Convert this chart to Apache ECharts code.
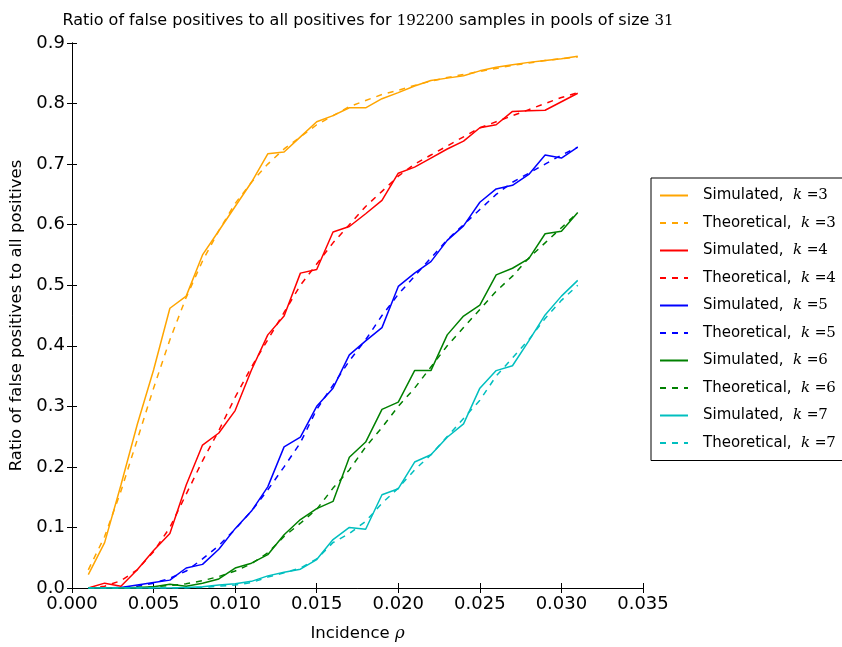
<!DOCTYPE html>
<html><head><meta charset="utf-8">
<script src="https://cdn.jsdelivr.net/npm/echarts@6/dist/echarts.min.js"></script>
<style>html,body{margin:0;padding:0;background:#fff}#c{width:842px;height:647px}</style>
</head><body><div id="c"></div>
<script>
var incidence = [0.001,0.002,0.003,0.004,0.005,0.006,0.007,0.008,0.009,0.010,0.011,0.012,0.013,0.014,0.015,0.016,0.017,0.018,0.019,0.020,0.021,0.022,0.023,0.024,0.025,0.026,0.027,0.028,0.029,0.030,0.031];
var xTicks = ['0.000','0.005','0.010','0.015','0.020','0.025','0.030','0.035'];
var yTicks = ['0.0','0.1','0.2','0.3','0.4','0.5','0.6','0.7','0.8','0.9'];

var sim3 = [0.022,0.075,0.17,0.27,0.36,0.462,0.482,0.55,0.59,0.63,0.67,0.717,0.72,0.745,0.77,0.78,0.793,0.793,0.808,0.818,0.829,0.838,0.842,0.846,0.854,0.86,0.864,0.868,0.871,0.874,0.878];
var th3  = [0.03,0.085,0.16,0.245,0.33,0.41,0.48,0.54,0.59,0.635,0.67,0.70,0.725,0.745,0.765,0.78,0.795,0.805,0.815,0.822,0.83,0.837,0.843,0.848,0.853,0.858,0.863,0.867,0.871,0.874,0.877];
var sim4 = [0.0,0.008,0.003,0.03,0.062,0.09,0.17,0.236,0.256,0.293,0.36,0.418,0.449,0.52,0.526,0.588,0.597,0.618,0.64,0.685,0.695,0.71,0.725,0.738,0.76,0.765,0.787,0.788,0.789,0.803,0.817];
var th4  = [0.0,0.003,0.012,0.03,0.06,0.10,0.155,0.21,0.26,0.315,0.365,0.41,0.455,0.50,0.535,0.57,0.60,0.63,0.655,0.68,0.70,0.715,0.73,0.745,0.76,0.77,0.78,0.79,0.80,0.81,0.818];
var sim5 = [0.0,0.0,0.001,0.005,0.009,0.013,0.033,0.039,0.064,0.098,0.127,0.167,0.233,0.249,0.30,0.33,0.385,0.408,0.43,0.498,0.52,0.539,0.574,0.598,0.637,0.659,0.665,0.683,0.715,0.71,0.728];
var th5  = [0.0,0.0,0.001,0.003,0.008,0.016,0.028,0.048,0.07,0.097,0.127,0.162,0.20,0.24,0.295,0.335,0.375,0.41,0.45,0.485,0.515,0.545,0.575,0.60,0.625,0.65,0.67,0.685,0.70,0.715,0.728];
var sim6 = [0.0,0.0,0.0,0.001,0.002,0.006,0.003,0.008,0.015,0.033,0.041,0.055,0.088,0.113,0.131,0.143,0.216,0.241,0.295,0.307,0.359,0.359,0.418,0.449,0.467,0.517,0.528,0.544,0.585,0.589,0.62];
var th6  = [0.0,0.0,0.0,0.001,0.002,0.004,0.007,0.012,0.019,0.028,0.04,0.058,0.085,0.107,0.13,0.165,0.195,0.233,0.265,0.30,0.33,0.365,0.40,0.43,0.46,0.49,0.515,0.545,0.57,0.595,0.62];
var sim7 = [0.0,0.0,0.0,0.0,0.0,0.0,0.001,0.002,0.005,0.007,0.011,0.02,0.026,0.031,0.047,0.08,0.10,0.097,0.154,0.164,0.208,0.22,0.249,0.271,0.33,0.359,0.367,0.408,0.451,0.482,0.508];
var th7  = [0.0,0.0,0.0,0.0,0.0,0.0,0.0,0.001,0.003,0.005,0.009,0.018,0.025,0.033,0.048,0.075,0.09,0.11,0.14,0.165,0.195,0.22,0.25,0.28,0.31,0.35,0.38,0.41,0.445,0.475,0.50];

var ks = ['3','4','5','6','7'];
var colors = ['#FFA500','#FF0000','#0000FF','#008000','#00BFBF'];
var simData = [sim3,sim4,sim5,sim6,sim7];
var thData = [th3,th4,th5,th6,th7];

function pairs(arr){ return incidence.map(function(x,i){return [x,arr[i]];}); }
var series = [], legendNames = [];
for (var i=0;i<ks.length;i++){
  var sn = 'Simulated, k=' + ks[i], tn = 'Theoretical, k=' + ks[i];
  legendNames.push(sn, tn);
  series.push({name:sn,type:'line',data:pairs(simData[i]),showSymbol:false,symbol:'none',
    lineStyle:{color:colors[i],width:1.5,type:'solid'},itemStyle:{color:colors[i]},animation:false});
  series.push({name:tn,type:'line',data:pairs(thData[i]),showSymbol:false,symbol:'none',
    lineStyle:{color:colors[i],width:1.5,type:[6,6]},itemStyle:{color:colors[i]},animation:false});
}
var F = 'DejaVu Sans';
var chart = echarts.init(document.getElementById('c'),null,{renderer:'canvas'});
var axisCommon = {axisLine:{show:true,lineStyle:{color:'#000',width:1}},axisTick:{show:true,inside:true,length:5,lineStyle:{color:'#000'}},splitLine:{show:false}};
chart.setOption({
  backgroundColor:'#fff',
  animation:false,
  title:{text:'Ratio of false positives to all positives for {n|192200} samples in pools of size {n|31}',
    left:363,top:8,textAlign:'center',
    textStyle:{fontFamily:F,fontSize:16,fontWeight:'normal',color:'#000',
      rich:{n:{fontFamily:'DejaVu Serif',fontSize:15,color:'#000'}}}},
  grid:{left:72,right:199,top:43,bottom:55,containLabel:false},
  legend:{orient:'vertical',left:651,top:178,width:190,data:legendNames,
    borderColor:'#000',borderWidth:1,padding:[10,8,10,8],itemWidth:28,itemHeight:14,itemGap:12.5,
    itemStyle:{opacity:0,borderWidth:0},
    formatter:function(n){var p=n.split(', k=');return p[0]+',  {k|k}{e| =}{v|'+p[1]+'}';},
    textStyle:{fontFamily:F,fontSize:15,lineHeight:15,color:'#000',padding:[0,0,0,10],
      rich:{k:{fontFamily:'DejaVu Serif',fontStyle:'italic',fontSize:15,lineHeight:15,color:'#000'},
            e:{fontFamily:'DejaVu Serif',fontSize:14,lineHeight:15,color:'#000'},
            v:{fontFamily:'DejaVu Serif',fontSize:15,lineHeight:15,color:'#000'}}}},
  xAxis:[
    Object.assign({type:'value',min:0,max:0.035,interval:0.005,position:'bottom',
      name:'Incidence {r|ρ}',nameLocation:'middle',nameGap:37,
      nameTextStyle:{fontFamily:F,fontSize:16.5,color:'#000',
        rich:{r:{fontFamily:'DejaVu Serif',fontStyle:'italic',fontSize:16.5,color:'#000'}}},
      axisLabel:{fontFamily:F,fontSize:18,color:'#000',margin:7,
        formatter:function(v){return v.toFixed(3);}}},axisCommon),
    Object.assign({type:'value',min:0,max:0.035,interval:0.005,position:'top',axisLabel:{show:false}},axisCommon)
  ],
  yAxis:[
    Object.assign({type:'value',min:0,max:0.9,interval:0.1,position:'left',
      name:'Ratio of false positives to all positives',nameLocation:'middle',nameGap:43,
      nameTextStyle:{fontFamily:F,fontSize:16.5,color:'#000'},
      axisLabel:{fontFamily:F,fontSize:18,color:'#000',margin:7,
        formatter:function(v){return v.toFixed(1);}}},axisCommon),
    Object.assign({type:'value',min:0,max:0.9,interval:0.1,position:'right',axisLabel:{show:false}},axisCommon)
  ],
  series:series
});
</script></body></html>
